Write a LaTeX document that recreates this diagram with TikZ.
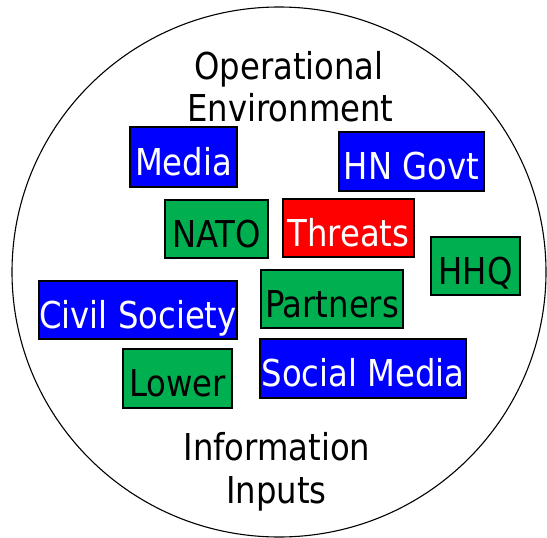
\documentclass[tikz,border=0pt]{standalone}
\usepackage{fontspec}
\setmainfont{DejaVu Sans Condensed}[FakeStretch=0.97]
\definecolor{boxblue}{HTML}{0000FF}
\definecolor{boxgreen}{HTML}{00B050}
\definecolor{boxred}{HTML}{FF0000}
\tikzset{
  tag/.style={draw=black, line width=1.2pt, inner sep=0pt, text height=36pt, text depth=0pt, font=\fontsize{37}{40}\selectfont},
  bluebox/.style={tag, fill=boxblue, text=white},
  greenbox/.style={tag, fill=boxgreen, text=black},
  redbox/.style={tag, fill=boxred, text=white},
  title/.style={anchor=base, inner sep=0pt, font=\fontsize{37}{40}\selectfont}
}
\begin{document}
\begin{tikzpicture}[x=1pt,y=-1pt]
\useasboundingbox (0,0) rectangle (547,538);
\draw[line width=1.1pt] (279,272) ellipse [x radius=267, y radius=265];
\node[title] (op) at (289,79) {Operational};
\node[title] (env) at (290.5,121) {Environment};
\node[title] (info) at (277,460) {Information};
\node[title] (inp) at (276.5,503) {Inputs};
\node[bluebox, minimum width=107pt, minimum height=60pt] (media) at (183.5,157) {Media};
\node[bluebox, minimum width=145pt, minimum height=59pt] (hn) at (411.5,161.5) {HN Govt};
\node[greenbox, minimum width=103pt, minimum height=58pt] (nato) at (216.5,229) {NATO};
\node[redbox, minimum width=131pt, minimum height=58pt] (threats) at (348.5,228) {Threats};
\node[greenbox, minimum width=89pt, minimum height=58pt] (hhq) at (475.5,266) {HHQ};
\node[bluebox, minimum width=198pt, minimum height=58pt] (civil) at (138,310) {Civil Society};
\node[greenbox, minimum width=142pt, minimum height=58pt] (partners) at (332,299) {Partners};
\node[greenbox, minimum width=109pt, minimum height=59pt] (lower) at (177.5,378.5) {Lower};
\node[bluebox, minimum width=206pt, minimum height=59pt] (social) at (363,368.5) {Social Media};
\end{tikzpicture}
\end{document}
